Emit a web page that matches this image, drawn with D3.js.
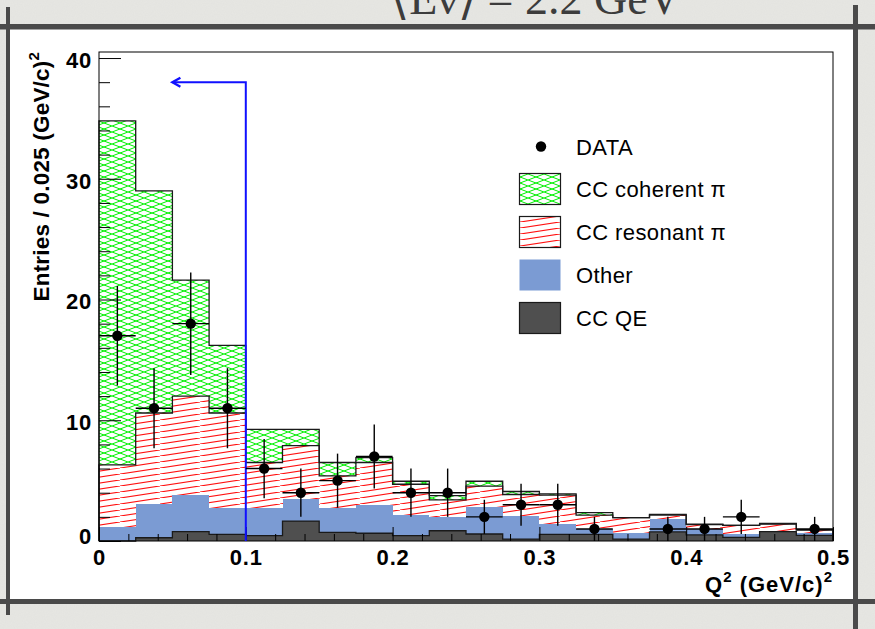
<!DOCTYPE html>
<html>
<head>
<meta charset="utf-8">
<script src="https://cdn.jsdelivr.net/npm/d3@7"></script>
<style>
  html, body { margin: 0; padding: 0; background: #e7e7e3; }
  svg { display: block; }
</style>
</head>
<body>
<svg id="chart" width="875" height="629"></svg>
<script>
// Q^2 bins (lower edges, GeV^2/c^2), width 0.025
const binLow = [0.000, 0.025, 0.050, 0.075, 0.100, 0.125, 0.150, 0.175, 0.200, 0.225,
                0.250, 0.275, 0.300, 0.325, 0.350, 0.375, 0.400, 0.425, 0.450, 0.475];
const binWidth = 0.025;

// Monte Carlo components (entries per bin)
const ccQE       = [0.00, 0.27, 0.77, 0.55, 0.45, 1.65, 0.72, 0.64, 0.44, 0.85,
                    0.58, 0.15, 0.55, 0.55, 0.15, 0.75, 0.50, 0.30, 0.77, 0.47];
const otherMC    = [1.20, 2.83, 3.03, 2.15, 2.30, 1.85, 2.03, 2.36, 1.71, 1.15,
                    2.27, 1.95, 0.85, 0.45, 0.48, 1.05, 0.50, 0.30, 0.03, 0.18];
const ccResonant = [5.10, 7.50, 8.20, 7.90, 3.75, 4.40, 2.65, 3.50, 2.55, 1.40,
                    1.70, 1.75, 2.40, 1.15, 1.30, 0.35, 0.35, 0.70, 0.60, 0.25];
const ccCoherent = [28.50, 18.40, 9.60, 5.60, 2.75, 1.35, 1.10, 0.40, 0.25, 0.35,
                    0.40, 0.25, 0.10, 0.20, 0.00, 0.05, 0.05, 0.00, 0.05, 0.05];

// Observed events per bin
const dataCounts = [17, 11, 18, 11, 6, 4, 5, 7, 4, 4, 2, 3, 3, 1, 0, 1, 1, 2, 0, 1];

// Axis ticks
const yMajorTicks = [0, 10, 20, 30, 40];
const yMinorStep = 2;
const xMajorTicks = [0, 0.1, 0.2, 0.3, 0.4, 0.5];
const xTickLabels = ["0", "0.1", "0.2", "0.3", "0.4", "0.5"];
const xMinorStep = 0.02;

// Signal-region cut shown with the arrow
const cutQ2 = 0.1, arrowLevel = 38, arrowTip = 0.05;

const legendLabels = ["DATA", "CC coherent \u03c0", "CC resonant \u03c0", "Other", "CC QE"];

const svg = d3.select("#chart");
const W = 875, H = 629;
const font = "'Liberation Sans', Arial, Helvetica, sans-serif";

// ---------- slide background ----------
const defs = svg.append("defs");
const grain = defs.append("filter").attr("id", "grain").attr("x", 0).attr("y", 0).attr("width", 1).attr("height", 1);
grain.append("feTurbulence").attr("type", "fractalNoise").attr("baseFrequency", 0.9).attr("numOctaves", 2).attr("result", "n");
grain.append("feColorMatrix").attr("in", "n").attr("type", "matrix")
  .attr("values", "0 0 0 0 0.5  0 0 0 0 0.5  0 0 0 0 0.5  0 0 0 0.10 0");
svg.append("rect").attr("width", W).attr("height", H).attr("fill", "#e7e7e3");
svg.append("rect").attr("width", W).attr("height", H).attr("filter", "url(#grain)");

// slide title, largely cut off by the top edge
svg.append("text")
  .attr("x", 536).attr("y", 14)
  .attr("text-anchor", "middle")
  .attr("font-family", "'Liberation Serif', 'DejaVu Serif', serif")
  .attr("font-size", 46)
  .attr("fill", "#3c3c3c")
  .text("\u27e8E\u03bd\u27e9 = 2.2 GeV");

// white panel and frame lines
svg.append("rect").attr("x", 10).attr("y", 29).attr("width", 843).attr("height", 570).attr("fill", "#ffffff");
const lineCol = "#4a4a4a";
svg.append("rect").attr("x", 0).attr("y", 24).attr("width", W).attr("height", 5.5).attr("fill", lineCol);
svg.append("rect").attr("x", 0).attr("y", 599).attr("width", W).attr("height", 5).attr("fill", lineCol);
svg.append("rect").attr("x", 6).attr("y", 7).attr("width", 4).attr("height", 608).attr("fill", lineCol);
svg.append("rect").attr("x", 853).attr("y", 5).attr("width", 5).attr("height", 624).attr("fill", lineCol);

// ---------- fill patterns ----------
const pCoh = defs.append("pattern").attr("id", "hatchCoh")
  .attr("patternUnits", "userSpaceOnUse").attr("width", 16).attr("height", 6);
pCoh.append("rect").attr("width", 16).attr("height", 6).attr("fill", "#ffffff");
pCoh.append("path").attr("d", "M0,0 L16,6 M0,6 L16,0")
  .attr("stroke", "#00f000").attr("stroke-width", 1).attr("fill", "none");

const pRes = defs.append("pattern").attr("id", "hatchRes")
  .attr("patternUnits", "userSpaceOnUse").attr("width", 40).attr("height", 6);
pRes.append("rect").attr("width", 40).attr("height", 6).attr("fill", "#ffffff");
pRes.append("path").attr("d", "M0,6 L40,0 M-40,6 L0,0 M40,6 L80,0")
  .attr("stroke", "#ff1010").attr("stroke-width", 1.2).attr("fill", "none");

// ---------- scales ----------
const x = d3.scaleLinear().domain([0, 0.5]).range([99, 833]);
const y = d3.scaleLinear().domain([0, 40.5]).range([541, 52]);

const plot = svg.append("g");
plot.append("rect").attr("x", x(0)).attr("y", y(40.5))
  .attr("width", x(0.5) - x(0)).attr("height", y(0) - y(40.5)).attr("fill", "#ffffff");

// ---------- stacked histogram ----------
const rows = binLow.map((lo, i) => ({
  lo, qe: ccQE[i], other: otherMC[i], res: ccResonant[i], coh: ccCoherent[i]
}));
const keys = ["qe", "other", "res", "coh"];
const fills = { qe: "#4f4f4f", other: "#7b9bd3", res: "url(#hatchRes)", coh: "url(#hatchCoh)" };
const stacked = d3.stack().keys(keys)(rows);

stacked.forEach(layer => {
  plot.append("g").selectAll("rect").data(layer).join("rect")
    .attr("x", d => x(d.data.lo))
    .attr("width", d => x(d.data.lo + binWidth) - x(d.data.lo))
    .attr("y", d => y(d[1]))
    .attr("height", d => Math.max(0, y(d[0]) - y(d[1])))
    .attr("fill", fills[layer.key])
    .attr("shape-rendering", "crispEdges");
});

// step outlines of the cumulative tops
function stepPath(layer) {
  let p = `M${x(binLow[0])},${y(0)}`;
  layer.forEach(d => {
    p += ` V${y(d[1])} H${x(d.data.lo + binWidth)}`;
  });
  p += ` V${y(0)}`;
  return p;
}
const outlined = { qe: "#1a1a1a", res: "#1a1a1a", coh: "#1a1a1a" };
stacked.forEach(layer => {
  if (!outlined[layer.key]) return;
  plot.append("path").attr("d", stepPath(layer))
    .attr("fill", "none").attr("stroke", outlined[layer.key]).attr("stroke-width", 1.3);
});

// ---------- frame and axes ----------
plot.append("rect").attr("x", x(0)).attr("y", y(40.5))
  .attr("width", x(0.5) - x(0)).attr("height", y(0) - y(40.5))
  .attr("fill", "none").attr("stroke", "#000").attr("stroke-width", 1);

const yMinor = d3.range(0, 40.5, yMinorStep).filter(v => !yMajorTicks.includes(v));
const xMinor = d3.range(0, 0.5001, xMinorStep).map(v => +v.toFixed(3))
  .filter(v => !xMajorTicks.some(t => Math.abs(t - v) < 1e-6));

const yAxisMinor = svg.append("g").attr("transform", `translate(${x(0)},0)`)
  .call(d3.axisLeft(y).tickValues(yMinor).tickSize(-11).tickFormat(""));
const yAxis = svg.append("g").attr("transform", `translate(${x(0)},0)`)
  .call(d3.axisLeft(y).tickValues(yMajorTicks).tickSize(-22).tickPadding(7).tickFormat(d3.format("d")));
const xAxisMinor = svg.append("g").attr("transform", `translate(0,${y(0)})`)
  .call(d3.axisBottom(x).tickValues(xMinor).tickSize(-7).tickFormat(""));
const xAxis = svg.append("g").attr("transform", `translate(0,${y(0)})`)
  .call(d3.axisBottom(x).tickValues(xMajorTicks).tickSize(-14).tickPadding(8)
    .tickFormat((d, i) => xTickLabels[i]));

[yAxisMinor, yAxis, xAxisMinor, xAxis].forEach(g => {
  g.select(".domain").remove();
  g.selectAll(".tick line").attr("stroke", "#000").attr("stroke-width", 1);
  g.selectAll("text").attr("font-family", font).attr("font-weight", "bold")
    .attr("font-size", 22).attr("fill", "#000").attr("letter-spacing", "0.8px");
});
yAxis.selectAll("text").attr("dy", "0.42em");
yAxis.selectAll(".tick").filter(d => d === 0).select("text").attr("dy", "0.1em");

// axis titles
const yTitle = svg.append("text")
  .attr("transform", `translate(49,${y(40.5)}) rotate(-90)`)
  .attr("text-anchor", "end")
  .attr("font-family", font).attr("font-weight", "bold").attr("font-size", 22.5)
  .attr("letter-spacing", "0.2px");
yTitle.append("tspan").text("Entries / 0.025 (GeV/c)");
yTitle.append("tspan").attr("font-size", 15).attr("dy", -10).text("2");

const xTitle = svg.append("text")
  .attr("x", x(0.5)).attr("y", 592)
  .attr("text-anchor", "end")
  .attr("font-family", font).attr("font-weight", "bold").attr("font-size", 22)
  .attr("letter-spacing", "1px");
xTitle.append("tspan").text("Q");
xTitle.append("tspan").attr("font-size", 15).attr("dy", -10).text("2");
xTitle.append("tspan").attr("dy", 10).text(" (GeV/c)");
xTitle.append("tspan").attr("font-size", 15).attr("dy", -10).text("2");

// ---------- cut arrow ----------
svg.append("path")
  .attr("d", `M${x(cutQ2)},${y(0)} V${y(arrowLevel)} H${x(arrowTip)}`)
  .attr("fill", "none").attr("stroke", "#1010ff").attr("stroke-width", 2);
svg.append("path")
  .attr("d", `M${x(arrowTip) + 8},${y(arrowLevel) - 4.5} L${x(arrowTip)},${y(arrowLevel)} L${x(arrowTip) + 8},${y(arrowLevel) + 4.5}`)
  .attr("fill", "none").attr("stroke", "#1010ff").attr("stroke-width", 2.4);

// ---------- data points with Poisson errors ----------
const pts = binLow.map((lo, i) => ({ lo, n: dataCounts[i] })).filter(d => d.n > 0);
const gData = svg.append("g");
gData.selectAll("line.v").data(pts).join("line").attr("class", "v")
  .attr("x1", d => x(d.lo + binWidth / 2)).attr("x2", d => x(d.lo + binWidth / 2))
  .attr("y1", d => y(d.n - Math.sqrt(d.n))).attr("y2", d => y(d.n + Math.sqrt(d.n)))
  .attr("stroke", "#000").attr("stroke-width", 1.4);
gData.selectAll("line.h").data(pts).join("line").attr("class", "h")
  .attr("x1", d => x(d.lo)).attr("x2", d => x(d.lo + binWidth))
  .attr("y1", d => y(d.n)).attr("y2", d => y(d.n))
  .attr("stroke", "#000").attr("stroke-width", 1.4);
gData.selectAll("circle").data(pts).join("circle")
  .attr("cx", d => x(d.lo + binWidth / 2)).attr("cy", d => y(d.n)).attr("r", 5.2)
  .attr("fill", "#000");

// ---------- legend ----------
const legend = svg.append("g");
const rowY = [146.5, 189, 232, 275, 318];
const boxFill = [null, "url(#hatchCoh)", "url(#hatchRes)", "#7b9bd3", "#4f4f4f"];
const boxStroke = [null, "#1a1a1a", "#1a1a1a", "none", "#1a1a1a"];
legendLabels.forEach((lab, i) => {
  if (i === 0) {
    legend.append("circle").attr("cx", 541).attr("cy", rowY[i]).attr("r", 5.2).attr("fill", "#000");
  } else {
    legend.append("rect").attr("x", 519.5).attr("y", rowY[i] - 15.5)
      .attr("width", 41).attr("height", 31)
      .attr("fill", boxFill[i]).attr("stroke", boxStroke[i]).attr("stroke-width", 1.2);
  }
  legend.append("text").attr("x", 576).attr("y", rowY[i] + 8)
    .attr("font-family", font).attr("font-size", 22).attr("fill", "#000")
    .attr("letter-spacing", "0.4px")
    .text(lab);
});
</script>
</body>
</html>
